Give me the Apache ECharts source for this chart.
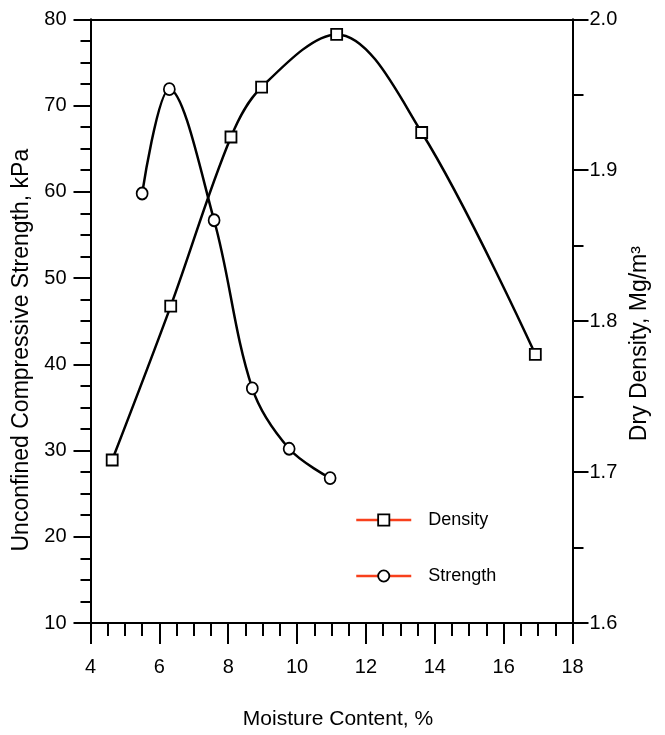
<!DOCTYPE html>
<html>
<head>
<meta charset="utf-8">
<script src="https://cdn.jsdelivr.net/npm/echarts@6/dist/echarts.min.js"></script>
<style>html,body{margin:0;padding:0;background:#fff}#c{width:665px;height:735px}</style>
</head>
<body>
<div id="c"></div>
<script>
// ---- data ----
var densityMoisture = [4.63, 6.33, 8.08, 8.97, 11.15, 13.62, 16.92];
var densityValues   = [1.708, 1.810, 1.922, 1.955, 1.990, 1.925, 1.778];
var strengthMoisture = [5.50, 6.29, 7.59, 8.70, 9.77, 10.96];
var strengthValues   = [59.8, 71.9, 56.7, 37.2, 30.2, 26.8];
var seriesNames = ['Density', 'Strength'];
var xTitle = 'Moisture Content, %';
var yLeftTitle = 'Unconfined Compressive Strength, kPa';
var yRightTitle = 'Dry Density, Mg/m\u00B3';

function pairs(xs, ys) { return xs.map(function (x, i) { return [x, ys[i]]; }); }

var FONT = '"Liberation Sans", Arial, sans-serif';
var axisLineStyle = { color: '#000', width: 2 };
var legendLine = { color: '#f8401c', width: 2.5 };
var markerStyle = { color: '#fff', borderColor: '#000', borderWidth: 1.8 };

var chart = echarts.init(document.getElementById('c'), null, { renderer: 'canvas' });
chart.setOption({
  animation: false,
  backgroundColor: '#fff',
  textStyle: { fontFamily: FONT, color: '#000' },
  grid: { left: 90.5, right: 92.5, top: 19.3, bottom: 111, containLabel: false },
  legend: {
    orient: 'vertical',
    left: 350,
    top: 506,
    itemWidth: 55,
    itemHeight: 14,
    itemGap: 38,
    textStyle: { fontFamily: FONT, fontSize: 18, color: '#000', padding: [0, 0, 0, 12] },
    data: [
      { name: seriesNames[0], itemStyle: markerStyle, lineStyle: legendLine },
      { name: seriesNames[1], itemStyle: markerStyle, lineStyle: legendLine }
    ]
  },
  xAxis: [{
    type: 'value', position: 'bottom', min: 4, max: 18, interval: 2,
    axisLine: { show: true, onZero: false, lineStyle: axisLineStyle },
    axisTick: { show: true, inside: false, length: 21, lineStyle: { color: '#000', width: 2 } },
    minorTick: { show: true, splitNumber: 4, length: 13, lineStyle: { color: '#000', width: 2 } },
    splitLine: { show: false },
    axisLabel: { margin: 34, fontSize: 20, color: '#000', fontFamily: FONT },
    name: xTitle, nameLocation: 'middle', nameGap: 86,
    nameTextStyle: { fontSize: 21, color: '#000', fontFamily: FONT, padding: [0, 0, 0, 13] }
  }, {
    type: 'value', position: 'top', min: 4, max: 18, interval: 2,
    axisLine: { show: true, onZero: false, lineStyle: axisLineStyle },
    axisTick: { show: false }, axisLabel: { show: false }, splitLine: { show: false }
  }],
  yAxis: [{
    type: 'value', position: 'left', min: 10, max: 80, interval: 10,
    axisLine: { show: true, onZero: false, lineStyle: axisLineStyle },
    axisTick: { show: true, inside: false, length: 17, lineStyle: { color: '#000', width: 2 } },
    minorTick: { show: true, splitNumber: 4, length: 10, lineStyle: { color: '#000', width: 2 } },
    splitLine: { show: false },
    axisLabel: { margin: 24, fontSize: 20, color: '#000', fontFamily: FONT },
    name: yLeftTitle, nameLocation: 'middle', nameRotate: 90, nameGap: 52,
    nameTextStyle: { fontSize: 23, color: '#000', fontFamily: FONT, padding: [0, 58, 0, 0] }
  }, {
    type: 'value', position: 'right', min: 1.6, max: 2.0, interval: 0.1,
    axisLine: { show: true, onZero: false, lineStyle: axisLineStyle },
    axisTick: { show: true, inside: false, length: 16, lineStyle: { color: '#000', width: 2 } },
    minorTick: { show: true, splitNumber: 2, length: 11, lineStyle: { color: '#000', width: 2 } },
    splitLine: { show: false },
    axisLabel: { margin: 17, fontSize: 20, color: '#000', fontFamily: FONT, formatter: function (v) { return v.toFixed(1); } },
    name: yRightTitle, nameLocation: 'middle', nameRotate: 90, nameGap: 55,
    nameTextStyle: { fontSize: 23, color: '#000', fontFamily: FONT, padding: [0, 45, 0, 0] }
  }],
  series: [{
    name: seriesNames[0], type: 'line', xAxisIndex: 0, yAxisIndex: 1,
    data: pairs(densityMoisture, densityValues),
    smooth: 0.35, symbol: 'rect', symbolSize: 11, z: 3,
    lineStyle: { color: '#000', width: 2.5 },
    itemStyle: markerStyle
  }, {
    name: seriesNames[1], type: 'line', xAxisIndex: 0, yAxisIndex: 0,
    data: pairs(strengthMoisture, strengthValues),
    smooth: 0.35, symbol: 'circle', symbolSize: [11, 12], z: 3,
    lineStyle: { color: '#000', width: 2.5 },
    itemStyle: markerStyle
  }]
});
</script>
</body>
</html>
